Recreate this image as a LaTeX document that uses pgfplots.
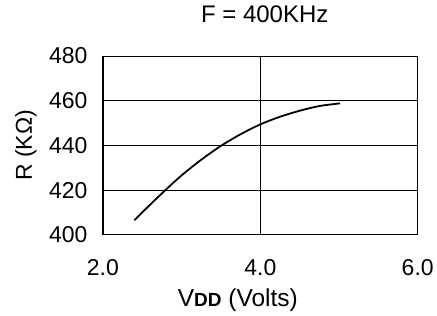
\documentclass[border=0pt]{standalone}
\usepackage{pgfplots}
\pgfplotsset{compat=1.18}
\usepackage{fontspec}
\setmainfont{Liberation Sans}
\begin{document}
\begin{tikzpicture}
\begin{axis}[
  scale only axis, width=315pt, height=179pt,
  xmin=2, xmax=6, ymin=400, ymax=480,
  xtick={2,4,6}, ytick={400,420,440,460,480},
  xticklabels={2.0,4.0,6.0},
  yticklabels={400,420,440,460,480},
  grid=major, major grid style={black, line width=0.8pt},
  axis line style={black, line width=0.9pt},
  major tick length=0pt,
  tick label style={font=\fontsize{23}{25}\selectfont},
  /pgf/number format/assume math mode=true,
  xticklabel style={yshift=-21pt},
  yticklabel style={xshift=-12pt},
  title={F = 400KHz},
  title style={font=\fontsize{24}{26}\selectfont, at={(axis description cs:0.514,1.156)}, anchor=base},
  xlabel={V{\fontsize{19}{20}\selectfont\bfseries DD} (Volts)},
  xlabel style={font=\fontsize{24.5}{26}\selectfont, at={(axis description cs:0.4286,-0.402)}, anchor=base},
  ylabel={R (KΩ)},
  ylabel style={font=\fontsize{23}{25}\selectfont, at={(axis description cs:-0.2254,0.5)}, anchor=base},
]
\addplot[black, line width=1.8pt, smooth] coordinates {
(2.40,406.5) (2.60,413.5) (2.80,420.2) (3.00,426.6) (3.25,433.6)
(3.50,439.8) (3.75,445.0) (4.00,449.4) (4.25,452.8) (4.50,455.5)
(4.75,457.6) (5.01,458.8)
};
\end{axis}
\path (current axis.south west) ++(-103pt,-81pt) rectangle ++(437pt,316pt);
\end{tikzpicture}
\end{document}
